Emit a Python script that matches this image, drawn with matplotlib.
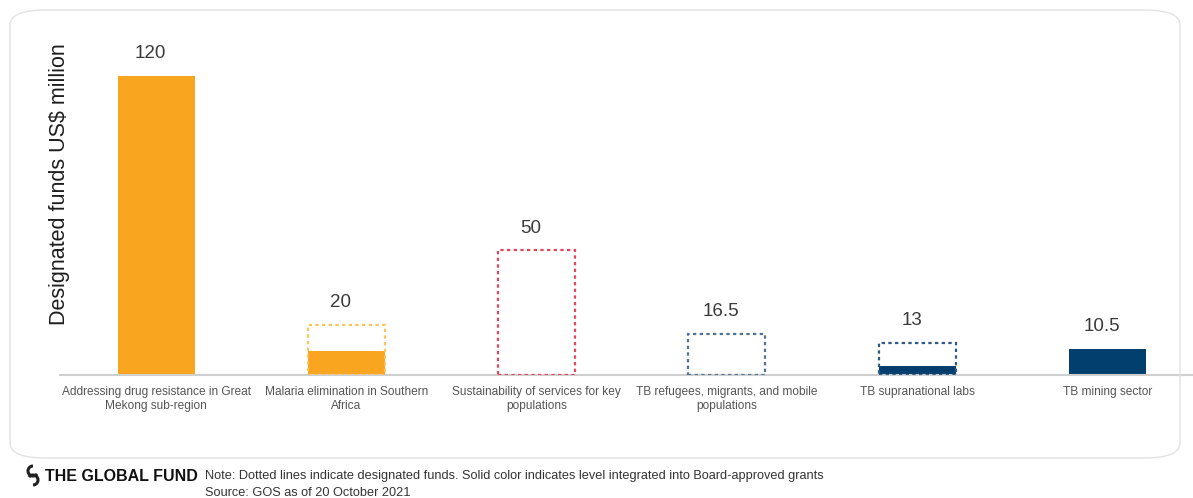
import matplotlib.pyplot as plt
from matplotlib.patches import FancyBboxPatch, Arc

plt.rcParams['font.family'] = ['Liberation Sans', 'DejaVu Sans']

categories = ['Addressing drug resistance in Great\nMekong sub-region',
              'Malaria elimination in Southern\nAfrica',
              'Sustainability of services for key\npopulations',
              'TB refugees, migrants, and mobile\npopulations',
              'TB supranational labs',
              'TB mining sector']
designated = [120, 20, 50, 16.5, 13, 10.5]
integrated = [120, 9.5, 0, 0, 3.5, 10.5]
value_labels = ['120', '20', '50', '16.5', '13', '10.5']

orange = '#F9A51F'
blue = '#023F6E'
fill_cols = [orange, orange, 'none', 'none', blue, blue]
edge_cols = ['none', '#FBC35E', '#E0485E', '#4E7396', '#2E5A84', 'none']

fig = plt.figure(figsize=(11.93, 4.98), dpi=100)
ax = fig.add_axes([60/1193, 123/498, 1 - 60/1193, 324/498])

x = range(len(categories))
w = 0.405
# designated funds as dotted outlines
for i in x:
    if edge_cols[i] != 'none':
        ax.bar(i, designated[i], width=w, fill=False, edgecolor=edge_cols[i],
               linestyle=(0, (1.5, 1.5)), linewidth=1.6, zorder=3)
# integrated into grants as solid fill
for i in x:
    if integrated[i] > 0:
        ax.bar(i, integrated[i], width=w, color=fill_cols[i], zorder=2)

for i in x:
    ax.annotate(value_labels[i], (i, designated[i]), xytext=(-4, 16),
                textcoords='offset points', ha='center', va='center',
                fontsize=13.5, color='#3a3a3a')

ax.set_xlim(-0.505, 5.45)
ax.set_ylim(0, 130)
ax.set_xticks(list(x))
ax.set_xticklabels(categories, fontsize=8.6, color='#555555', linespacing=1.25)
ax.tick_params(axis='x', length=0, pad=8)
ax.set_yticks([])
for s in ['top', 'right', 'left']:
    ax.spines[s].set_visible(False)
ax.spines['bottom'].set_color('#cfcfcf')
ax.spines['bottom'].set_linewidth(1.5)
fig.text(60/1193, 1 - 184/498, 'Designated funds US$ million', rotation=90,
         ha='center', va='center', fontsize=15.5, color='#1e1e1e')

# paper edge
fig.patches.append(FancyBboxPatch((10/1193, 40/498), 1170/1193, 448/498,
                                  boxstyle='round,pad=0,rounding_size=0.03',
                                  transform=fig.transFigure, fill=False,
                                  edgecolor='#e2e2e2', linewidth=1))

# footer
fig.patches.append(Arc((33/1193, 1 - 471/498), 10/1193, 10/498, theta1=90, theta2=300,
                       transform=fig.transFigure, color='#222222', linewidth=2.2))
fig.patches.append(Arc((33/1193, 1 - 480/498), 10/1193, 10/498, theta1=270, theta2=120,
                       transform=fig.transFigure, color='#222222', linewidth=2.2))
fig.text(45/1193, 1 - 476/498, 'THE GLOBAL FUND', fontsize=11.5, fontweight='bold',
         color='#111111', va='center')
fig.text(205/1193, 1 - 476/498,
         'Note: Dotted lines indicate designated funds. Solid color indicates level integrated into Board-approved grants',
         fontsize=9.2, color='#333333', va='center')
fig.text(205/1193, 1 - 493/498, 'Source: GOS as of 20 October 2021',
         fontsize=9.2, color='#333333', va='center')

fig.savefig('out.png', dpi=100)
